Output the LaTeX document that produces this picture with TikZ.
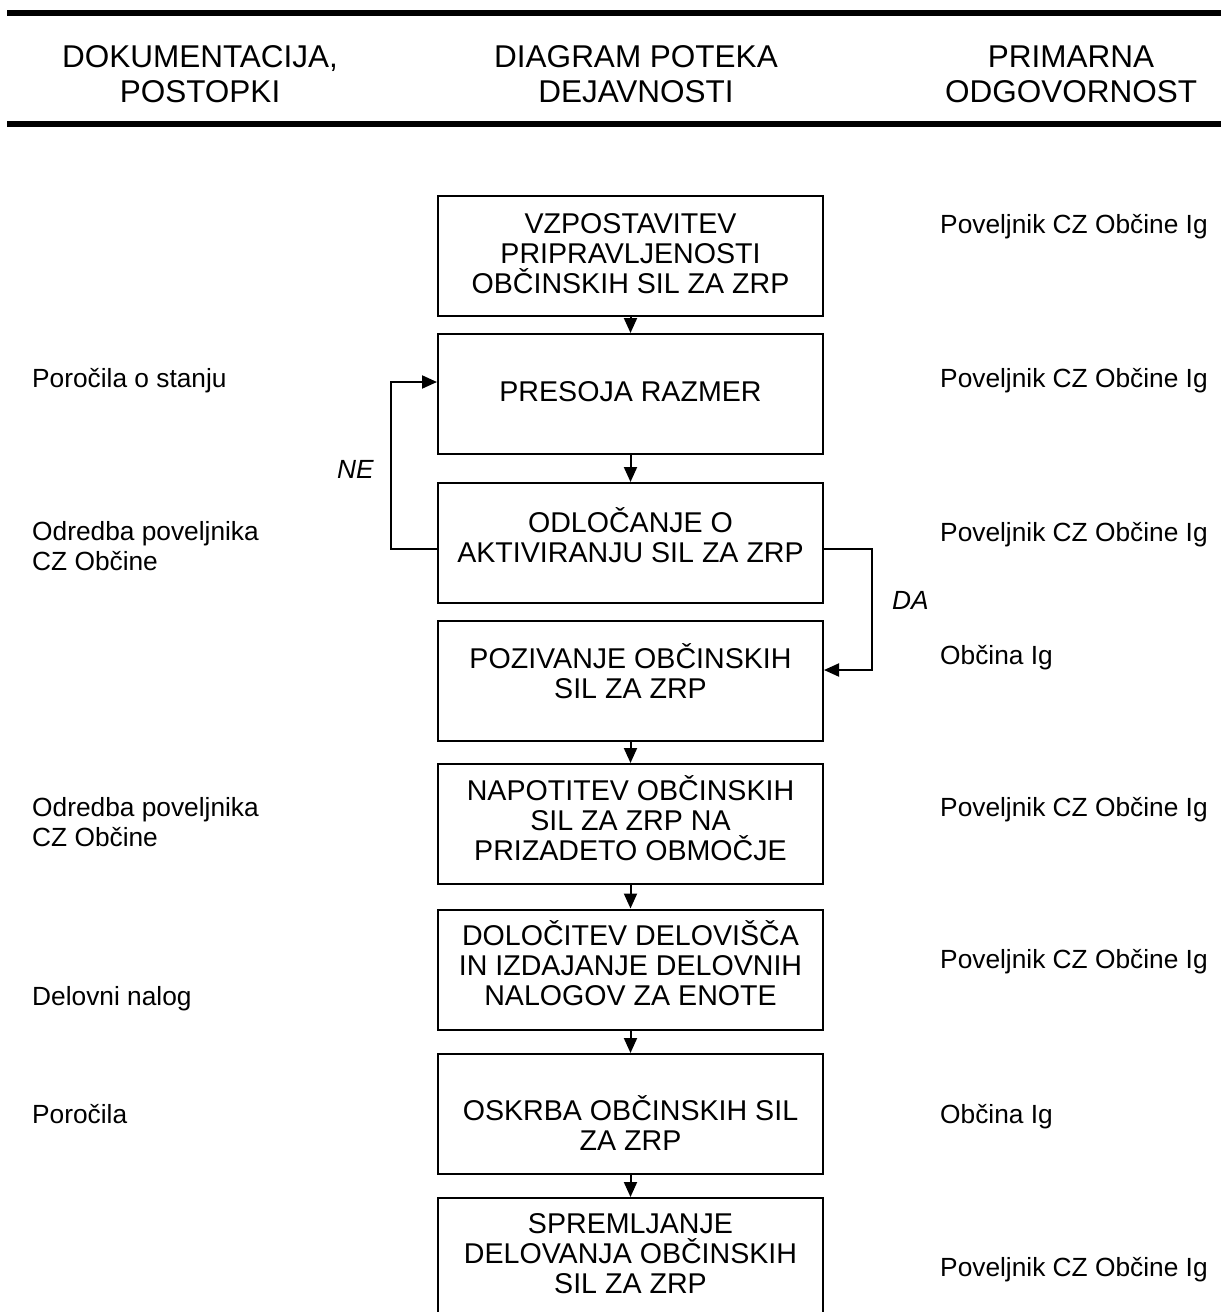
\documentclass[tikz,border=0pt]{standalone}
\usepackage{fontspec}
\setmainfont{Liberation Sans}
\usetikzlibrary{arrows.meta}
\newcommand{\hdrfont}{\fontsize{31.5}{35}\selectfont}
\newcommand{\boxfont}{\fontsize{28.6}{30}\selectfont}
\newcommand{\sidefont}{\fontsize{26.3}{30}\selectfont}
\def\cstack#1{\vtop{\lineskiplimit=-1000pt\lineskip=0pt\halign{\hfil##\hfil\cr#1\crcr}}}
\def\lstack#1{\vtop{\lineskiplimit=-1000pt\lineskip=0pt\halign{##\hfil\cr#1\crcr}}}
\tikzset{
  stepbox/.style={draw, line width=2pt, minimum width=385pt, minimum height=120pt, inner sep=0pt},
  boxtxt/.style={font=\boxfont, inner sep=0pt, anchor=base},
  hdr/.style={font=\hdrfont, inner sep=0pt, anchor=base},
  side/.style={font=\sidefont, inner sep=0pt, anchor=base west},
  lbl/.style={font=\sidefont\itshape, inner sep=0pt, anchor=base west},
  arr/.style={line width=2pt, -{Triangle[length=15pt,width=13pt]}},
  rule/.style={line width=6.5pt}
}
\begin{document}
\begin{tikzpicture}[x=1pt,y=-1pt]
\useasboundingbox (0,0) rectangle (1221,1312);
\clip (0,0) rectangle (1221,1312);
% header rules
\coordinate (r1a) at (7,13); \coordinate (r1b) at (1221,13);
\coordinate (r2a) at (7,124); \coordinate (r2b) at (1221,124);
\draw[rule] (r1a) -- (r1b);
\draw[rule] (r2a) -- (r2b);
% header texts
\node[hdr] (h1) at (200,67) {\cstack{DOKUMENTACIJA,\cr POSTOPKI}};
\node[hdr] (h2) at (636,67) {\cstack{DIAGRAM POTEKA\cr DEJAVNOSTI}};
\node[hdr] (h3) at (1071,67) {\cstack{PRIMARNA\cr ODGOVORNOST}};
% boxes
\node[stepbox] (b1) at (630.5,255.5) {};
\node[stepbox] (b2) at (630.5,394) {};
\node[stepbox] (b3) at (630.5,543) {};
\node[stepbox] (b4) at (630.5,680.5) {};
\node[stepbox] (b5) at (630.5,824) {};
\node[stepbox] (b6) at (630.5,969.5) {};
\node[stepbox] (b7) at (630.5,1114) {};
\node[stepbox] (b8) at (630.5,1258) {};
% box texts
\node[boxtxt] (t1) at (630.5,233) {\cstack{VZPOSTAVITEV\cr PRIPRAVLJENOSTI\cr OBČINSKIH SIL ZA ZRP}};
\node[boxtxt] (t2) at (630.5,401) {\cstack{PRESOJA RAZMER}};
\node[boxtxt] (t3) at (630.5,532) {\cstack{ODLOČANJE O\cr AKTIVIRANJU SIL ZA ZRP}};
\node[boxtxt] (t4) at (630.5,668) {\cstack{POZIVANJE OBČINSKIH\cr SIL ZA ZRP}};
\node[boxtxt] (t5) at (630.5,800) {\cstack{NAPOTITEV OBČINSKIH\cr SIL ZA ZRP NA\cr PRIZADETO OBMOČJE}};
\node[boxtxt] (t6) at (630.5,945) {\cstack{DOLOČITEV DELOVIŠČA\cr IN IZDAJANJE DELOVNIH\cr NALOGOV ZA ENOTE}};
\node[boxtxt] (t7) at (630.5,1120) {\cstack{OSKRBA OBČINSKIH SIL\cr ZA ZRP}};
\node[boxtxt] (t8) at (630.5,1233) {\cstack{SPREMLJANJE\cr DELOVANJA OBČINSKIH\cr SIL ZA ZRP}};
% left column
\node[side] (l2) at (32,387) {Poročila o stanju};
\node[side] (l3) at (32,540) {\lstack{Odredba poveljnika\cr CZ Občine}};
\node[side] (l5) at (32,816) {\lstack{Odredba poveljnika\cr CZ Občine}};
\node[side] (l6) at (32,1005) {Delovni nalog};
\node[side] (l7) at (32,1123) {Poročila};
% right column
\node[side] (p1) at (940,233) {Poveljnik CZ Občine Ig};
\node[side] (p2) at (940,387) {Poveljnik CZ Občine Ig};
\node[side] (p3) at (940,541) {Poveljnik CZ Občine Ig};
\node[side] (p4) at (940,664) {Občina Ig};
\node[side] (p5) at (940,816) {Poveljnik CZ Občine Ig};
\node[side] (p6) at (940,968) {Poveljnik CZ Občine Ig};
\node[side] (p7) at (940,1123) {Občina Ig};
\node[side] (p8) at (940,1276) {Poveljnik CZ Občine Ig};
% labels
\node[lbl] (ne) at (337,478) {NE};
\node[lbl] (da) at (892,609) {DA};
% connectors
\draw[arr] (b1) -- (b2);
\draw[arr] (b2) -- (b3);
\draw[arr] (b4) -- (b5);
\draw[arr] (b5) -- (b6);
\draw[arr] (b6) -- (b7);
\draw[arr] (b7) -- (b8);
\coordinate (loopL) at (391,465);
\coordinate (loopR) at (871.5,610);
\draw[arr] ([yshift=-6pt]b3.west) -| (loopL) |- ([yshift=12pt]b2.west);
\draw[arr] ([yshift=-6pt]b3.east) -| (loopR) |- ([yshift=10.5pt]b4.east);
\end{tikzpicture}
\end{document}
